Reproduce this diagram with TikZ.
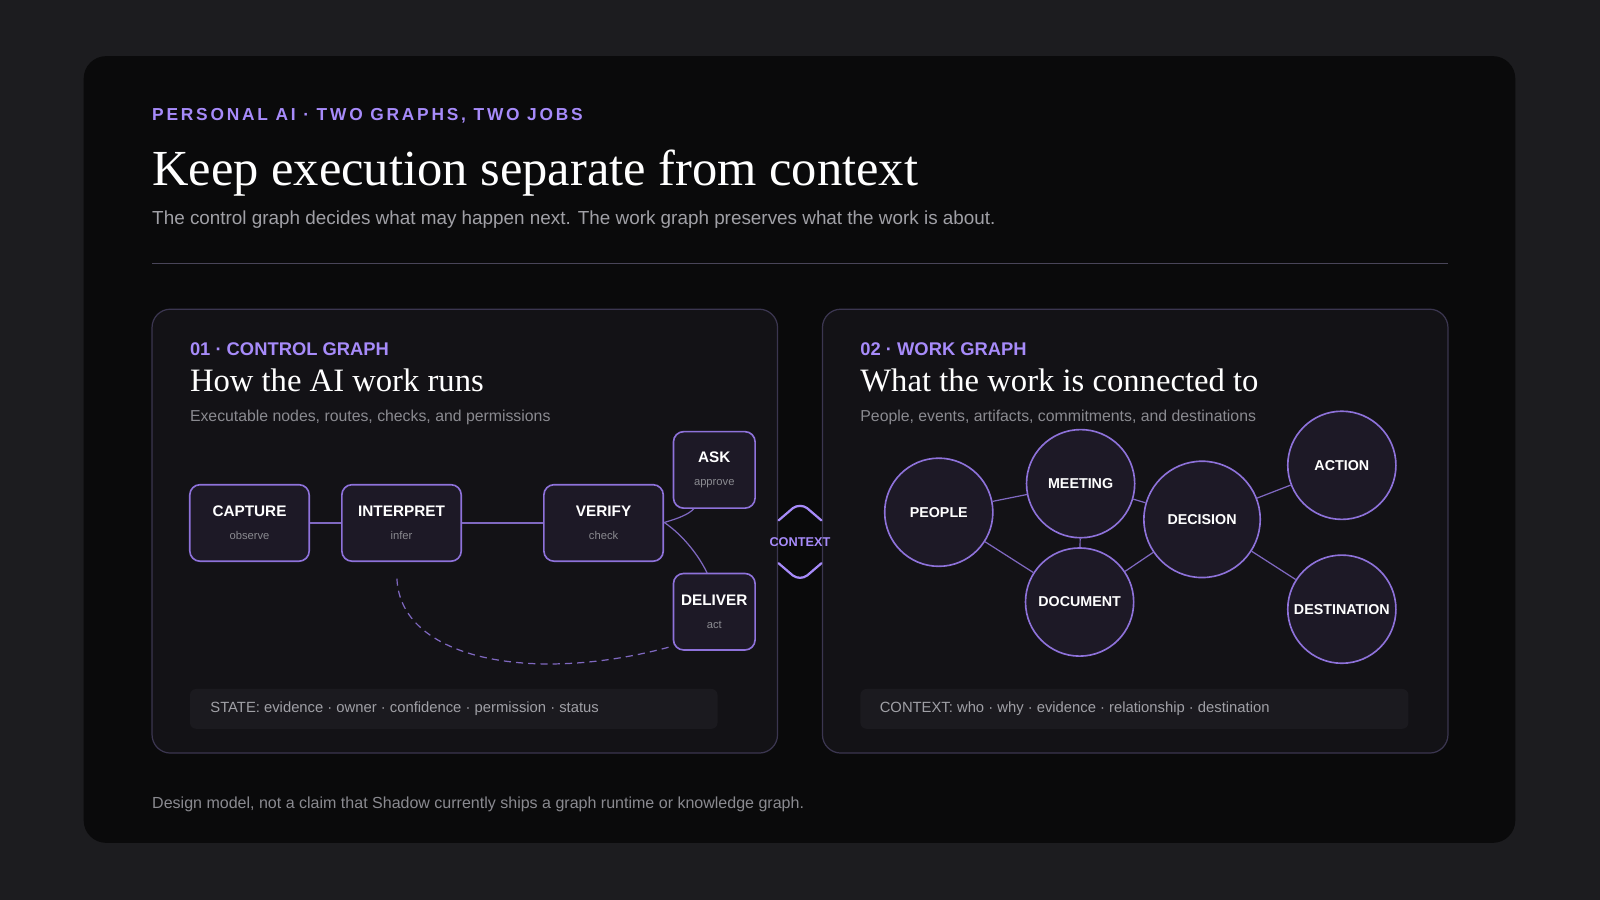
\documentclass[tikz,border=0pt]{standalone}
\usepackage{fontspec}
\setmainfont{Liberation Sans}
\newfontfamily\serif{Liberation Serif}
\newfontfamily\spaced[LetterSpace=16]{Liberation Sans}
\definecolor{bg}{HTML}{1C1C1F}
\definecolor{card}{HTML}{0A0A0B}
\definecolor{panel}{HTML}{131216}
\definecolor{pborder}{HTML}{3B3650}
\definecolor{accent}{HTML}{A78BFA}
\definecolor{nstroke}{HTML}{8E72DA}
\definecolor{nfill}{HTML}{1D1926}
\definecolor{edge}{HTML}{7F68C0}
\definecolor{gray1}{HTML}{A0A0A6}
\definecolor{gray2}{HTML}{8A8A90}
\definecolor{bar}{HTML}{1B1A1F}
\tikzset{
 x=1pt,y=-1pt,
 box/.style={draw=nstroke,line width=1.6pt,fill=nfill,rounded corners=10pt,align=center,inner sep=0pt},
 circ/.style={circle,draw=nstroke,line width=1.6pt,fill=nfill,inner sep=0pt,font=\bfseries\fontsize{14}{16}\selectfont,text=white},
 ed/.style={draw=edge,line width=1.2pt},
 panelst/.style={draw=pborder,line width=1.2pt,fill=panel,rounded corners=18pt},
}
\newcommand\nlabel[2]{{\bfseries\fontsize{15}{17}\selectfont\textcolor{white}{#1}}\\[11pt]{\fontsize{11}{13}\selectfont\textcolor{gray2}{#2}}}
\begin{document}
\begin{tikzpicture}
\fill[bg] (0,0) rectangle (1568,882);
\useasboundingbox (0,0) rectangle (1568,882);
\fill[card,rounded corners=22pt] (82,55) rectangle (1485,826);
\node[anchor=base west,inner sep=0,text=accent,font=\spaced\bfseries\fontsize{17}{20}\selectfont] (kick) at (149,118) {PERSONAL AI · TWO GRAPHS, TWO JOBS};
\node[anchor=base west,inner sep=0,text=white,font=\serif\fontsize{49.5}{54}\selectfont] (title) at (149,182) {Keep execution separate from context};
\node[anchor=base west,inner sep=0,text=gray1,font=\fontsize{18.5}{22}\selectfont] (sub) at (149,220) {The control graph decides what may happen next. The work graph preserves what the work is about.};
\draw[draw=pborder!80!gray,line width=1pt] (149,258) -- (1419,258);
% panels
\draw[panelst] (149,303) rectangle (762,738);
\draw[panelst] (806,303) rectangle (1419,738);
\node[anchor=base west,inner sep=0,text=accent,font=\bfseries\fontsize{18}{20}\selectfont] (l1) at (186,348) {01 · CONTROL GRAPH};
\node[anchor=base west,inner sep=0,text=white,font=\serif\fontsize{32}{34}\selectfont] (l2) at (186,384) {How the AI work runs};
\node[anchor=base west,inner sep=0,text=gray2,font=\fontsize{15.5}{18}\selectfont] (l3) at (186,413) {Executable nodes, routes, checks, and permissions};
\node[anchor=base west,inner sep=0,text=accent,font=\bfseries\fontsize{18}{20}\selectfont] (r1) at (843,348) {02 · WORK GRAPH};
\node[anchor=base west,inner sep=0,text=white,font=\serif\fontsize{32}{34}\selectfont] (r2) at (843,384) {What the work is connected to};
\node[anchor=base west,inner sep=0,text=gray2,font=\fontsize{15.5}{18}\selectfont] (r3) at (843,413) {People, events, artifacts, commitments, and destinations};
% control nodes
\node[box,minimum width=117pt,minimum height=75pt] (cap) at (244.5,512.5) {\nlabel{CAPTURE}{observe}};
\node[box,minimum width=117pt,minimum height=75pt] (int) at (393.5,512.5) {\nlabel{INTERPRET}{infer}};
\node[box,minimum width=117pt,minimum height=75pt] (ver) at (591.5,512.5) {\nlabel{VERIFY}{check}};
\node[box,minimum width=80pt,minimum height=75pt] (ask) at (700,460.5) {\nlabel{ASK}{approve}};
\node[box,minimum width=80pt,minimum height=75pt] (del) at (700,599.5) {\nlabel{DELIVER}{act}};
\draw[ed] (cap) -- (int);
\draw[ed] (int) -- (ver);
\coordinate (vo) at (651,512);
\draw[ed] (vo) .. controls (665,508) and (675,504) .. (680,498.5);
\draw[ed] (vo) .. controls (670,525) and (685,545) .. (693,561.5);
\coordinate (ds) at (389,567);
\draw[ed,dashed,dash pattern=on 7pt off 5pt] (ds) .. controls (392,645) and (520,672) .. (660,633);
% state bar
\node[fill=bar,rounded corners=6pt,minimum width=517pt,minimum height=39pt,inner sep=0,anchor=north west] (sb) at (186,675) {};
\node[anchor=west,inner sep=0,text=gray1,font=\fontsize{14.5}{17}\selectfont] (st) at (206,694.5) {STATE: evidence · owner · confidence · permission · status};
\node[fill=bar,rounded corners=6pt,minimum width=537pt,minimum height=39pt,inner sep=0,anchor=north west] (cb) at (843,675) {};
\node[anchor=west,inner sep=0,text=gray1,font=\fontsize{14.5}{17}\selectfont] (ct) at (862,694.5) {CONTEXT: who · why · evidence · relationship · destination};
% context connector
\node[text=accent,font=\bfseries\fontsize{12.5}{14}\selectfont,inner sep=0] (ctx) at (784,531) {CONTEXT};
\coordinate (a1) at (763,510); \coordinate (a2) at (805,510);
\draw[draw=accent,line width=2.2pt,line cap=round] (a1) -- (777,498) .. controls (781,495) and (787,495) .. (791,498) -- (a2);
\coordinate (b1) at (763,552); \coordinate (b2) at (805,552);
\draw[draw=accent,line width=2.2pt,line cap=round] (b1) -- (777,564) .. controls (781,567) and (787,567) .. (791,564) -- (b2);
% work graph
\node[circ,minimum size=106pt] (peo) at (920,502) {PEOPLE};
\node[circ,minimum size=106pt] (mee) at (1059,474) {MEETING};
\node[circ,minimum size=106pt] (doc) at (1058,590) {DOCUMENT};
\node[circ,minimum size=114pt] (dec) at (1178,509) {DECISION};
\node[circ,minimum size=106pt] (act) at (1315,456) {ACTION};
\node[circ,minimum size=106pt] (des) at (1315,597) {DESTINATION};
\draw[ed] (peo) -- (mee);
\draw[ed] (peo) -- (doc);
\draw[ed] (mee) -- (doc);
\draw[ed] (mee) -- (dec);
\draw[ed] (doc) -- (dec);
\draw[ed] (dec) -- (act);
\draw[ed] (dec) -- (des);
\node[anchor=base west,inner sep=0,text=gray2,font=\fontsize{15.7}{18}\selectfont] (foot) at (149,792) {Design model, not a claim that Shadow currently ships a graph runtime or knowledge graph.};
\end{tikzpicture}
\end{document}
